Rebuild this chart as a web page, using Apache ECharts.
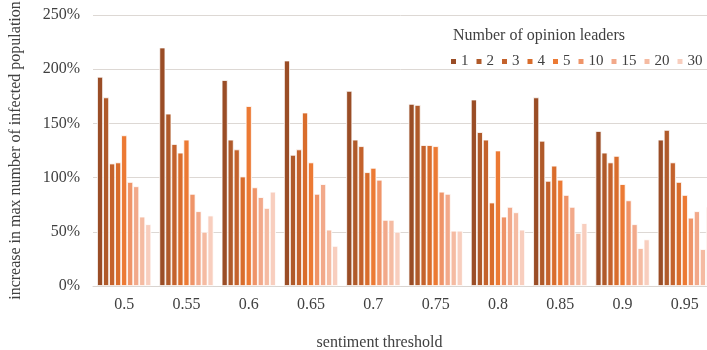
<!DOCTYPE html>
<html>
<head>
<meta charset="utf-8">
<script src="https://cdn.jsdelivr.net/npm/echarts@6/dist/echarts.min.js"></script>
<style>
html,body{margin:0;padding:0;background:#fff;}
#chart{width:707px;height:350px;}
</style>
</head>
<body>
<div id="chart"></div>
<script>
// Sentiment thresholds on the x axis
const thresholds = ['0.5', '0.55', '0.6', '0.65', '0.7', '0.75', '0.8', '0.85', '0.9', '0.95'];
// Number of opinion leaders (one series each)
const leaderCounts = ['1', '2', '3', '4', '5', '10', '15', '20', '30'];
// Increase in max number of infected population (%), one array per leader count
const leaders1  = [193, 220, 190, 208, 180, 168, 172, 174, 143, 135];
const leaders2  = [174, 159, 135, 121, 135, 167, 142, 134, 123, 144];
const leaders3  = [113, 131, 126, 126, 129, 130, 135,  97, 114, 114];
const leaders4  = [114, 123, 101, 160, 105, 130,  77, 111, 120,  96];
const leaders5  = [139, 135, 166, 114, 109, 129, 125,  98,  94,  84];
const leaders10 = [ 96,  85,  91,  85,  98,  87,  64,  84,  79,  63];
const leaders15 = [ 92,  69,  82,  94,  61,  85,  73,  73,  57,  69];
const leaders20 = [ 64,  50,  72,  52,  61,  51,  68,  49,  35,  34];
const leaders30 = [ 57,  65,  87,  37,  50,  51,  52,  58,  43,  73];
const yTicks = [0, 50, 100, 150, 200, 250];

const seriesValues = [leaders1, leaders2, leaders3, leaders4, leaders5, leaders10, leaders15, leaders20, leaders30];
const palette = ['#9a4d26', '#b05a2a', '#c4622c', '#d96d2c', '#ec7a34', '#ef9468', '#f2a98a', '#f5bba2', '#f8cebe'];

const serif = '"Liberation Serif", "DejaVu Serif", serif';
const chart = echarts.init(document.getElementById('chart'));

chart.setOption({
  backgroundColor: '#ffffff',
  animation: false,
  color: palette,
  title: {
    text: 'Number of opinion leaders',
    left: 448,
    top: 23,
    textStyle: { fontFamily: serif, fontSize: 16, fontWeight: 'normal', color: '#404040' }
  },
  legend: {
    data: leaderCounts,
    orient: 'horizontal',
    left: 444,
    top: 49,
    width: 400,
    itemWidth: 7,
    itemHeight: 7,
    itemGap: 6,
    icon: 'rect',
    textStyle: { fontFamily: serif, fontSize: 15, color: '#404040', padding: [0, 0, 0, -1] }
  },
  // plot area runs slightly past the right edge of the canvas
  grid: { left: 93, top: 15, width: 623, height: 271, outerBoundsMode: 'none', containLabel: false },
  xAxis: {
    type: 'category',
    data: thresholds,
    name: 'sentiment threshold',
    nameLocation: 'middle',
    nameGap: 49,
    nameTextStyle: { fontFamily: serif, fontSize: 16, color: '#404040', padding: [0, 0, 0, -50] },
    axisLine: { lineStyle: { color: '#d9d4d0', width: 1 } },
    axisTick: { show: false },
    axisLabel: { fontFamily: serif, fontSize: 16, color: '#404040', margin: 11 }
  },
  yAxis: {
    type: 'value',
    min: yTicks[0],
    max: yTicks[yTicks.length - 1],
    interval: 50,
    name: 'increase in max number of infected population',
    nameLocation: 'middle',
    nameGap: 69,
    nameTextStyle: { fontFamily: serif, fontSize: 16, color: '#404040' },
    axisLine: { show: false },
    axisTick: { show: false },
    axisLabel: { fontFamily: serif, fontSize: 16, color: '#404040', margin: 13, formatter: '{value}%' },
    splitLine: { lineStyle: { color: '#ddd8d4', width: 1 } }
  },
  series: leaderCounts.map((name, i) => ({
    name: name,
    type: 'bar',
    data: seriesValues[i],
    barGap: '0%',
    barCategoryGap: '13%',
    itemStyle: { color: palette[i], borderColor: '#ffffff', borderWidth: 0.8 }
  }))
});
</script>
</body>
</html>
